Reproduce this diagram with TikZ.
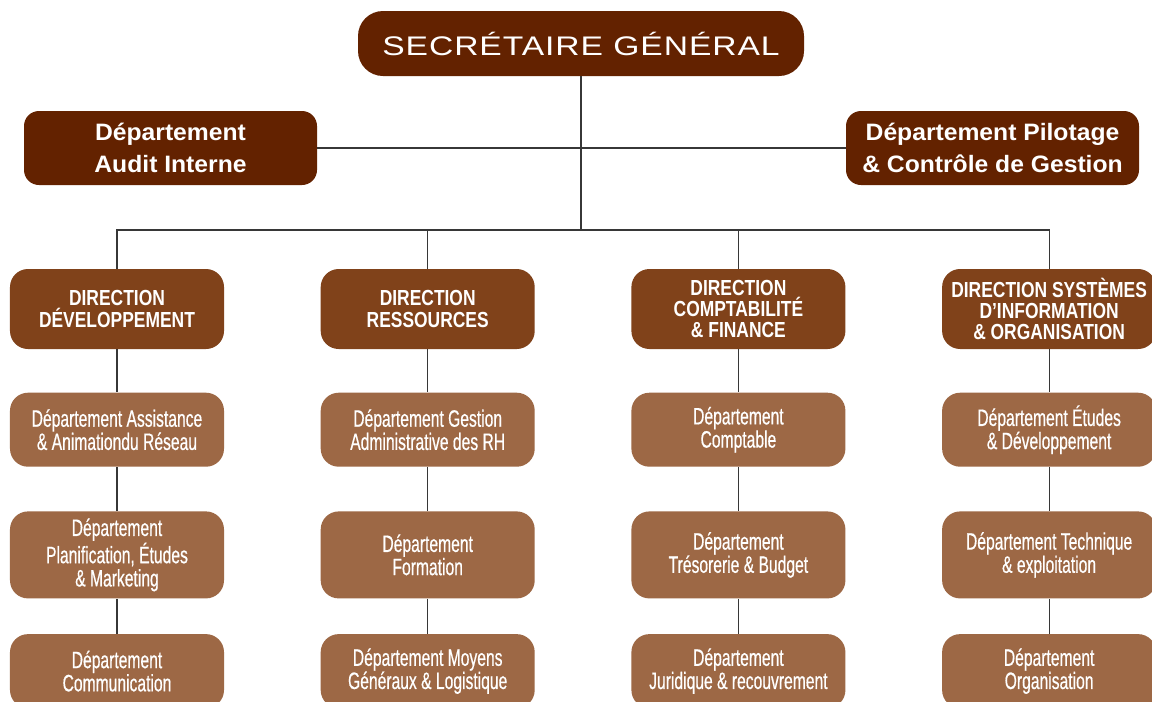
\documentclass[tikz,border=0pt]{standalone}
\usepackage{fontspec}
\usetikzlibrary{positioning}
\newfontfamily\titlefont[FakeStretch=1.25,LetterSpace=3.5]{Liberation Sans}
\newfontfamily\condfont[FakeStretch=0.66,FakeBold=0.5]{Liberation Sans}
\newfontfamily\boldfont[FakeStretch=0.8]{Liberation Sans}
\newfontfamily\widebold[FakeStretch=1.04]{Liberation Sans}
\definecolor{sgbrown}{RGB}{99,34,0}
\definecolor{dirbrown}{RGB}{128,66,26}
\definecolor{deptbrown}{RGB}{157,104,69}
\definecolor{linegray}{RGB}{55,55,55}

\begin{document}
\begin{tikzpicture}[sgnode/.style={rectangle, rounded corners=0.5cm, fill=sgbrown, text=white, minimum width=8.92cm, minimum height=1.3cm, font=\titlefont\fontsize{15.3}{17}\selectfont},
    topnode/.style={rectangle, rounded corners=0.3cm, fill=sgbrown, text=white, minimum width=5.86cm, minimum height=1.48cm, align=center, font=\widebold\bfseries\fontsize{13.5}{18}\selectfont},
    dirnode/.style={rectangle, rounded corners=0.36cm, fill=dirbrown, text=white, minimum width=4.28cm, minimum height=1.6cm, inner sep=1pt, align=center, font=\boldfont\bfseries\fontsize{12.4}{12.2}\selectfont},
    deptnode/.style={rectangle, rounded corners=0.36cm, fill=deptbrown, text=white, minimum width=4.28cm, minimum height=1.48cm, inner sep=1pt, align=center, font=\condfont\fontsize{13.5}{13.2}\selectfont},
    link/.style={draw=linegray, line width=0.6pt}]
    \clip (0,0) rectangle (23.04,-14.02);
    \fill[white] (0,0) rectangle (23.04,-14.02);
    % nodes
    \node[sgnode]  (sg)    at (11.62,-0.87)  {SECRÉTAIRE GÉNÉRAL};
    \node[topnode] (audit) at (3.41,-2.96)   {Département\\Audit Interne};
    \node[topnode] (pilot) at (19.85,-2.96)  {Département Pilotage\\\& Contrôle de Gestion};
    \node[dirnode] (dev)   at (2.34,-6.18)   {DIRECTION\\DÉVELOPPEMENT};
    \node[dirnode] (res)   [right=1.92cm of dev] {DIRECTION\\RESSOURCES};
    \node[dirnode] (cf)    [right=1.92cm of res] {DIRECTION\\COMPTABILITÉ\\\& FINANCE};
    \node[dirnode] (sio)   [right=1.92cm of cf]  {DIRECTION SYSTÈMES\\D’INFORMATION\\\& ORGANISATION};
    % departements
    \node[deptnode] (dev1) [below=0.86cm of dev]  {Département Assistance\\\& Animationdu Réseau};
    \node[deptnode, minimum height=1.74cm] (dev2) [below=0.88cm of dev1] {Département\\Planification, Études\\\& Marketing};
    \node[deptnode] (dev3) [below=0.7cm of dev2]  {Département\\Communication};
    \node[deptnode] (res1) [below=0.86cm of res]  {Département Gestion\\Administrative des RH};
    \node[deptnode, minimum height=1.74cm] (res2) [below=0.88cm of res1] {Département\\Formation};
    \node[deptnode] (res3) [below=0.7cm of res2]  {Département Moyens\\Généraux \& Logistique};
    \node[deptnode] (cf1)  [below=0.86cm of cf]   {Département\\Comptable};
    \node[deptnode, minimum height=1.74cm] (cf2) [below=0.88cm of cf1] {Département\\Trésorerie \& Budget};
    \node[deptnode] (cf3)  [below=0.7cm of cf2]   {Département\\Juridique \& recouvrement};
    \node[deptnode] (sio1) [below=0.86cm of sio]  {Département Études\\\& Développement};
    \node[deptnode, minimum height=1.74cm] (sio2) [below=0.88cm of sio1] {Département Technique\\\& exploitation};
    \node[deptnode] (sio3) [below=0.7cm of sio2]  {Département\\Organisation};
    % lines
    \coordinate (hub) at (sg.south |- 0,-4.6);
    \draw[link] (sg.south) -- (hub);
    \draw[link] (audit.east) -- (pilot.west);
    \draw[link] (dev.north) |- (hub) -| (sio.north);
    \draw[link] (res.north) -- (res.north |- hub);
    \draw[link] (cf.north) -- (cf.north |- hub);
    \foreach \col in {dev,res,cf,sio}{
        \draw[link] (\col.south) -- (\col1.north);
        \draw[link] (\col1.south) -- (\col2.north);
        \draw[link] (\col2.south) -- (\col3.north);
    }
\end{tikzpicture}
\end{document}
